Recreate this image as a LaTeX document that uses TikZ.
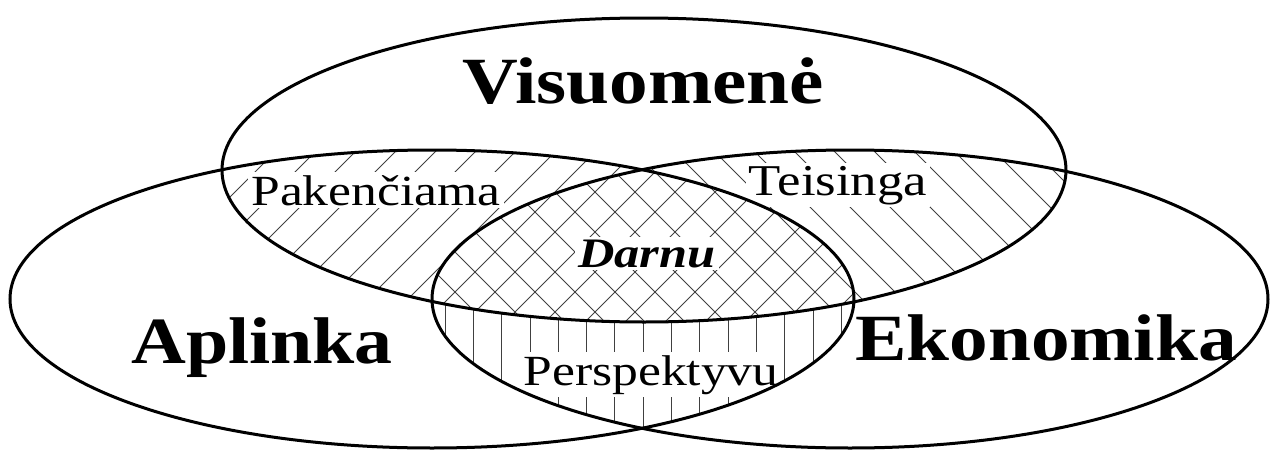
\documentclass[tikz,border=0pt]{standalone}
\usepackage{fontspec}
\setmainfont{Liberation Serif}
\newcommand{\wide}[1]{\scalebox{1.2}[1]{#1}}
\begin{document}
\begin{tikzpicture}[x=0.5pt,y=-0.5pt,
  rim/.style={line width=1.5pt},
  hatchline/.style={line width=0.5pt, black!75},
  biglabel/.style={font=\fontsize{33}{38}\selectfont\bfseries, anchor=base, inner sep=0pt},
  smalllabel/.style={fill=white, inner sep=1.5pt, anchor=base}]
\useasboundingbox (0,0) rectangle (1271,450);
% vertical hatching: left and right, not top
\begin{scope}
  \clip (432,299) ellipse [x radius=211pt, y radius=74.5pt];
  \clip (850,299) ellipse [x radius=209pt, y radius=74.5pt];
  \foreach \k in {-5,...,14} \draw[hatchline] ({530+28.3*\k},0) -- ({530+28.3*\k},450);
  \fill[white] (644,170) ellipse [x radius=211pt, y radius=76pt];
\end{scope}
% "/" hatching: top and left
\begin{scope}
  \clip (644,170) ellipse [x radius=211pt, y radius=76pt];
  \clip (432,299) ellipse [x radius=211pt, y radius=74.5pt];
  \foreach \c in {27,67,...,1587} \draw[hatchline] (\c,0) -- ({\c-450},450);
\end{scope}
% "\" hatching: top and right
\begin{scope}
  \clip (644,170) ellipse [x radius=211pt, y radius=76pt];
  \clip (850,299) ellipse [x radius=209pt, y radius=74.5pt];
  \foreach \c in {-437,-397,...,1283} \draw[hatchline] (\c,0) -- ({\c+450},450);
\end{scope}
% labels
\node[biglabel] (vis) at (643,103) {\scalebox{1.17}[1]{Visuomenė}};
\node[biglabel] (apl) at (262,363) {\scalebox{1.15}[1]{Aplinka}};
\node[biglabel] (eko) at (1046,360) {\scalebox{1.17}[1]{Ekonomika}};
\node[smalllabel, font=\fontsize{21.5}{25}\selectfont] (pak) at (376,205) {\wide{Pakenčiama}};
\node[smalllabel, font=\fontsize{22}{25}\selectfont] (tei) at (838,195) {\wide{Teisinga}};
\node[smalllabel, font=\fontsize{21}{24}\selectfont\bfseries\itshape] (dar) at (647,267) {\wide{Darnu}};
\node[smalllabel, font=\fontsize{21.5}{25}\selectfont] (per) at (651,385) {\wide{Perspektyvu}};
% outlines
\draw[rim] (644,170) ellipse [x radius=211pt, y radius=76pt];
\draw[rim] (432,299) ellipse [x radius=211pt, y radius=74.5pt];
\draw[rim] (850,299) ellipse [x radius=209pt, y radius=74.5pt];
\end{tikzpicture}
\end{document}
